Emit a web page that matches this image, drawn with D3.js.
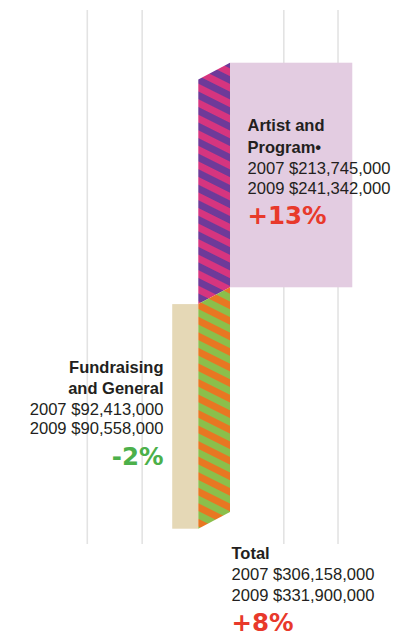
<!DOCTYPE html>
<html>
<head>
<meta charset="utf-8">
<script src="https://cdn.jsdelivr.net/npm/d3@7"></script>
<style>
  html, body { margin: 0; padding: 0; background: #fff; }
  svg { display: block; }
  text { fill: #231f20; }
  .title { font-family: "Liberation Sans", Arial, sans-serif; font-weight: 700; font-size: 16.5px; }
  .value { font-family: "Liberation Sans", Arial, sans-serif; font-size: 16.6px; }
  .change { font-family: "DejaVu Sans", sans-serif; font-weight: 700; font-size: 24.5px; }
</style>
</head>
<body>
<svg id="chart" width="409" height="637"></svg>
<script>
// Budget categories, in millions of dollars
const categories = ["Artist and Program", "Fundraising and General", "Total"];
const titleLines = [["Artist and", "Program\u2022"], ["Fundraising", "and General"], ["Total"]];
const values2007 = [213.745, 92.413, 306.158];
const values2009 = [241.342, 90.558, 331.900];
const changeLabels = ["+13%", "-2%", "+8%"];
// Reference gridlines, in millions from the left edge of the connector
const gridValues = [-174, -88, 134, 219];

const fmt = v => "$" + d3.format(",")(Math.round(v * 1e6));

const svg = d3.select("#chart");

// Horizontal: millions of dollars -> pixel width
const w = d3.scaleLinear().domain([0, 100]).range([0, 63.8]);
const originX = 198.3;          // left edge of the striped connector
const bandW = 31.7;             // width of the connector
const skew = 16.8;              // vertical offset of the connector's left side

// Vertical: one row per component
const y = d3.scaleLinear().domain([0, 2]).range([62.7, 511.9]);

// Gridlines
svg.append("g").selectAll("line").data(gridValues).join("line")
  .attr("x1", d => originX + w(d)).attr("x2", d => originX + w(d))
  .attr("y1", 10).attr("y2", 544)
  .attr("stroke", "#e3e3e3").attr("stroke-width", 1.6);

// Stripe patterns
const defs = svg.append("defs");
function stripes(id, c1, c2) {
  const p = defs.append("pattern").attr("id", id)
    .attr("patternUnits", "userSpaceOnUse")
    .attr("width", 20).attr("height", 13.9)
    .attr("patternTransform", "rotate(26.57)");
  p.append("rect").attr("width", 20).attr("height", 6.95).attr("fill", c1);
  p.append("rect").attr("y", 6.95).attr("width", 20).attr("height", 6.95).attr("fill", c2);
}
stripes("stripeArtist", "#d6357f", "#6e3a99");
stripes("stripeFund", "#e87722", "#8bbf4b");

// Artist and Program block (to the right of the connector)
svg.append("rect")
  .attr("x", originX + bandW)
  .attr("y", y(0))
  .attr("width", w(values2009[0]) - bandW)
  .attr("height", y(1) - y(0))
  .attr("fill", "#e3cce1");

// Fundraising and General block (to the left of the connector)
svg.append("rect")
  .attr("x", originX + bandW - w(values2009[1]))
  .attr("y", y(1) + skew)
  .attr("width", w(values2009[1]) - bandW)
  .attr("height", y(2) - y(1))
  .attr("fill", "#e5d8b6");

// Striped connector segments
const seg = (r0, r1) => [
  [originX, y(r0) + skew], [originX + bandW, y(r0)],
  [originX + bandW, y(r1)], [originX, y(r1) + skew]
];
const line = d3.line();
svg.append("path").attr("d", line(seg(0, 1)) + "Z").attr("fill", "url(#stripeArtist)");
svg.append("path").attr("d", line(seg(1, 2)) + "Z").attr("fill", "url(#stripeFund)");

// Labels
const labelSpecs = [
  { x: 247.5, anchor: "start", base: [131, 153, 174, 193.5, 224], color: "#e8392b" },
  { x: 163.5, anchor: "end", base: [372.7, 393.5, 415, 433.5, 465], color: "#4cb04a" },
  { x: 231.5, anchor: "start", base: [559, null, 580, 600.5, 630.5], color: "#e8392b" }
];

categories.forEach((cat, i) => {
  const s = labelSpecs[i];
  const g = svg.append("g").attr("text-anchor", s.anchor);
  titleLines[i].forEach((t, j) => {
    g.append("text").attr("class", "title").attr("x", s.x).attr("y", s.base[j]).text(t);
  });
  g.append("text").attr("class", "value").attr("x", s.x).attr("y", s.base[2])
    .text("2007 " + fmt(values2007[i]));
  g.append("text").attr("class", "value").attr("x", s.x).attr("y", s.base[3])
    .text("2009 " + fmt(values2009[i]));
  g.append("text").attr("class", "change").attr("x", s.x).attr("y", s.base[4])
    .style("fill", s.color).text(changeLabels[i]);
});
</script>
</body>
</html>
